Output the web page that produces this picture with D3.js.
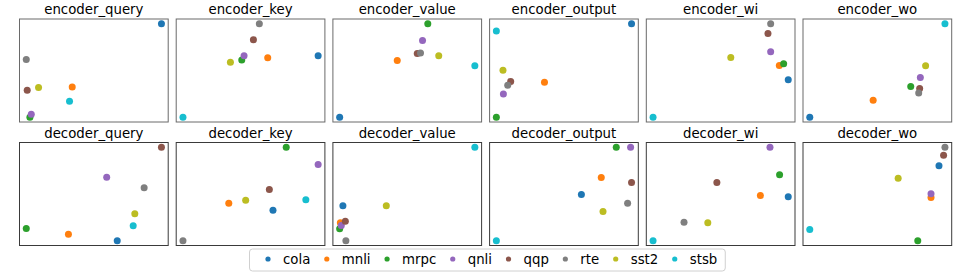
<!DOCTYPE html>
<html>
<head>
<meta charset="utf-8">
<script src="https://cdn.jsdelivr.net/npm/d3@7"></script>
<style>
  html, body { margin: 0; padding: 0; background: #fff; }
  svg { display: block; }
  text { font-family: "DejaVu Sans", sans-serif; }
</style>
</head>
<body>
<script>
// Categories (tasks) and colours
const tasks = ["cola", "mnli", "mrpc", "qnli", "qqp", "rte", "sst2", "stsb"];
const colors = ["#1f77b4", "#ff7f0e", "#2ca02c", "#9467bd", "#8c564b", "#7f7f7f", "#bcbd22", "#17becf"];

// Panel titles (row-major)
const panels = ["encoder_query", "encoder_key", "encoder_value", "encoder_output", "encoder_wi", "encoder_wo",
                "decoder_query", "decoder_key", "decoder_value", "decoder_output", "decoder_wi", "decoder_wo"];

// 2-D embedding coordinates per panel, in task order
const encoder_query_x = [1.0, 0.34, 0.027, 0.037, 0.007, 0.0, 0.091, 0.32];
const encoder_query_y = [1.0, 0.325, 0.0, 0.032, 0.289, 0.618, 0.318, 0.171];
const encoder_key_x = [1.0, 0.627, 0.435, 0.452, 0.521, 0.565, 0.351, 0.0];
const encoder_key_y = [0.657, 0.636, 0.611, 0.657, 0.829, 1.0, 0.589, 0.0];
const encoder_value_x = [0.0, 0.426, 0.652, 0.613, 0.574, 0.598, 0.733, 1.0];
const encoder_value_y = [0.0, 0.607, 1.0, 0.821, 0.682, 0.686, 0.657, 0.55];
const encoder_output_x = [1.0, 0.356, 0.0, 0.052, 0.106, 0.084, 0.049, 0.0];
const encoder_output_y = [1.0, 0.375, 0.0, 0.25, 0.382, 0.343, 0.504, 0.921];
const encoder_wi_x = [1.0, 0.934, 0.966, 0.87, 0.85, 0.87, 0.575, 0.0];
const encoder_wi_y = [0.4, 0.554, 0.571, 0.7, 0.896, 1.0, 0.639, 0.0];
const encoder_wo_x = [0.0, 0.469, 0.747, 0.818, 0.813, 0.806, 0.857, 1.0];
const encoder_wo_y = [0.0, 0.182, 0.329, 0.425, 0.307, 0.261, 0.55, 1.0];
const decoder_query_x = [0.673, 0.312, 0.0, 0.595, 1.0, 0.872, 0.803, 0.791];
const decoder_query_y = [0.0, 0.071, 0.132, 0.68, 1.0, 0.566, 0.288, 0.16];
const decoder_key_x = [0.666, 0.339, 0.764, 1.0, 0.639, 0.0, 0.464, 0.909];
const decoder_key_y = [0.327, 0.402, 1.0, 0.815, 0.548, 0.0, 0.434, 0.438];
const decoder_value_x = [0.024, 0.005, 0.0, 0.012, 0.042, 0.046, 0.345, 1.0];
const decoder_value_y = [0.374, 0.192, 0.128, 0.164, 0.21, 0.0, 0.374, 1.0];
const decoder_output_x = [0.629, 0.776, 0.887, 0.993, 1.0, 0.971, 0.789, 0.0];
const decoder_output_y = [0.495, 0.676, 1.0, 1.0, 0.623, 0.402, 0.313, 0.0];
const decoder_wi_x = [1.0, 0.794, 0.936, 0.865, 0.472, 0.229, 0.405, 0.0];
const decoder_wi_y = [0.47, 0.484, 0.705, 1.0, 0.623, 0.199, 0.192, 0.0];
const decoder_wo_x = [0.956, 0.897, 0.799, 0.897, 0.99, 1.0, 0.654, 0.0];
const decoder_wo_y = [0.801, 0.463, 0.0, 0.502, 0.915, 1.0, 0.669, 0.121];

const panelData = {
  encoder_query: [encoder_query_x, encoder_query_y],
  encoder_key: [encoder_key_x, encoder_key_y],
  encoder_value: [encoder_value_x, encoder_value_y],
  encoder_output: [encoder_output_x, encoder_output_y],
  encoder_wi: [encoder_wi_x, encoder_wi_y],
  encoder_wo: [encoder_wo_x, encoder_wo_y],
  decoder_query: [decoder_query_x, decoder_query_y],
  decoder_key: [decoder_key_x, decoder_key_y],
  decoder_value: [decoder_value_x, decoder_value_y],
  decoder_output: [decoder_output_x, decoder_output_y],
  decoder_wi: [decoder_wi_x, decoder_wi_y],
  decoder_wo: [decoder_wo_x, decoder_wo_y]
};

const W = 972, H = 273;
const svg = d3.select("body").append("svg").attr("width", W).attr("height", H);

const left0 = 19.5, step = 156.7, pw = 148.7, ph = 103;
const rowTops = [19, 142.5];
const fontSize = 13.3;
const color = d3.scaleOrdinal().domain(tasks).range(colors);

panels.forEach((name, i) => {
  const row = Math.floor(i / 6), col = i % 6;
  const x0 = left0 + col * step, y0 = rowTops[row];
  const [xs, ys] = panelData[name];
  const xe = d3.extent(xs), ye = d3.extent(ys);
  const xm = (xe[1] - xe[0]) * 0.05, ym = (ye[1] - ye[0]) * 0.05;
  const x = d3.scaleLinear().domain([xe[0] - xm, xe[1] + xm]).range([0, pw]);
  const y = d3.scaleLinear().domain([ye[0] - ym, ye[1] + ym]).range([ph, 0]);

  const g = svg.append("g").attr("transform", `translate(${x0},${y0})`);
  g.append("rect").attr("x", 0).attr("y", 0).attr("width", pw).attr("height", ph)
    .attr("fill", "#fff");
  g.selectAll("circle").data(tasks).join("circle")
    .attr("cx", (d, k) => x(xs[k]))
    .attr("cy", (d, k) => y(ys[k]))
    .attr("r", 3.5)
    .attr("fill", d => color(d));
  g.append("rect").attr("x", 0).attr("y", 0).attr("width", pw).attr("height", ph)
    .attr("fill", "none").attr("stroke", row === 0 ? "#6a6a6a" : "#3a3a3a").attr("stroke-width", 1);
  g.append("text").attr("x", pw / 2).attr("y", -5)
    .attr("text-anchor", "middle").attr("font-size", fontSize).attr("fill", "#000")
    .text(name);
});

// Legend
const leg = svg.append("g");
const legBox = leg.append("rect").attr("x", 249.5).attr("y", 249).attr("height", 22)
  .attr("rx", 3).attr("fill", "#fff").attr("fill-opacity", 0.85)
  .attr("stroke", "#d0d0d0").attr("stroke-width", 1);
let cx = 268;
tasks.forEach((t, k) => {
  leg.append("circle").attr("cx", cx).attr("cy", 259).attr("r", 2.6).attr("fill", color(t));
  const tx = leg.append("text").attr("x", cx + 15).attr("y", 263.5)
    .attr("font-size", fontSize).attr("fill", "#000").text(t);
  const w = tx.node().getComputedTextLength();
  cx = cx + 15 + w + 16.5;
});
legBox.attr("width", cx - 16.5 - 249.5 + 8);
</script>
</body>
</html>
